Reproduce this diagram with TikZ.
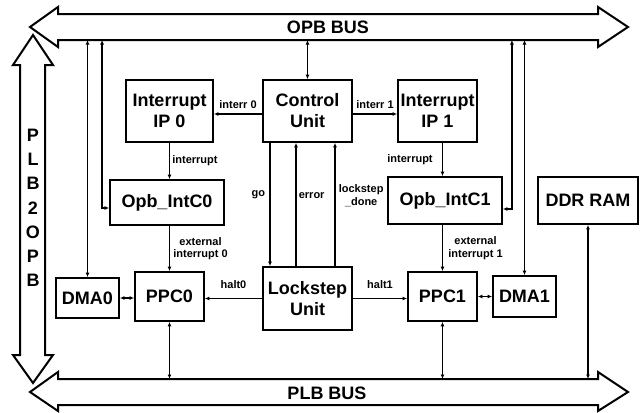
\documentclass[tikz,border=0pt]{standalone}
\usepackage{fontspec}
\setmainfont{Liberation Sans}
\usetikzlibrary{arrows.meta,positioning,calc}
\tikzset{>={Latex[length=4.5pt,width=4pt]}}
\tikzset{blk/.style={draw, line width=1.8pt, fill=white, align=center, inner sep=1pt,
    font=\fontsize{18}{21}\selectfont\bfseries}}
\tikzset{lbl/.style={font=\fontsize{11}{12.5}\selectfont\bfseries, inner sep=0pt, align=center}}
\tikzset{bus/.style={draw, line width=2pt, fill=white, line join=miter}}
\tikzset{bustxt/.style={font=\fontsize{18}{21}\selectfont\bfseries, inner sep=0pt}}
\tikzset{wire/.style={line width=1.7pt}}

\begin{document}
\begin{tikzpicture}[x=1pt,y=-1pt]
  \useasboundingbox (0,0) rectangle (641,413);
  % the three buses
  \draw[bus] (58,14) -- (598,14) -- (598,7) -- (628,27) -- (598,47) -- (598,40)
    -- (58,40) -- (58,47) -- (30,27) -- (58,7) -- cycle;
  \draw[bus] (58,379) -- (598,379) -- (598,372) -- (628,392) -- (598,411) -- (598,405)
    -- (58,405) -- (58,411) -- (30,392) -- (58,372) -- cycle;
  \draw[bus] (20,65) -- (20,355) -- (13,355) -- (33,383) -- (53,355) -- (45,355)
    -- (45,65) -- (53,65) -- (33,35) -- (13,65) -- cycle;
  \node[bustxt] (opbtxt) at (328,27) {OPB BUS};
  \node[bustxt] (plbtxt) at (327,393) {PLB BUS};
  \foreach \c [count=\i] in {P,L,B,2,O,P,B}
    \node[bustxt] (br\i) at (33,{110.7+24.3*\i}) {\c};
  \coordinate (opb) at (0,40);
  \coordinate (plb) at (0,379);

  % blocks
  \node[blk, minimum width=87pt, minimum height=62pt] (ip0) at (169.5,111) {Interrupt\\IP 0};
  \node[blk, minimum width=89pt, minimum height=62pt] (cu) at (307.5,111) {Control\\Unit};
  \node[blk, minimum width=79pt, minimum height=62pt] (ip1) at (437.5,111) {Interrupt\\IP 1};
  \node[blk, minimum width=114pt, minimum height=45pt] (oic0) at (167,202.5) {Opb\_IntC0};
  \node[blk, minimum width=114pt, minimum height=47pt] (oic1) at (445,200.5) {Opb\_IntC1};
  \node[blk, minimum width=100pt, minimum height=47pt] (ddr) at (588,200.5) {DDR RAM};
  \node[blk, minimum width=63pt, minimum height=40pt] (dma0) at (87.5,298) {DMA0};
  \node[blk, minimum width=69pt, minimum height=49pt] (ppc0) at (169.5,296.5) {PPC0};
  \node[blk, minimum width=89pt, minimum height=63pt] (ls) at (307.5,298.5) {Lockstep\\Unit};
  \node[blk, minimum width=69pt, minimum height=49pt] (ppc1) at (442.5,296.5) {PPC1};
  \node[blk, minimum width=63pt, minimum height=41pt] (dma1) at (524.5,296.5) {DMA1};

  % OPB side
  \draw[wire,<->] (cu.north |- opb) -- (cu.north);
  \draw[wire,<->] (dma0.north |- opb) -- (dma0.north);
  \draw[wire,<->] ([xshift=-7pt]oic0.west |- opb) |- ([yshift=-5.5pt]oic0.west);
  \draw[wire,<->] (dma1.north |- opb) -- (dma1.north);
  \draw[wire,<->] ([xshift=9pt]oic1.east |- opb) |- ([yshift=-8.5pt]oic1.east);

  % interrupts
  \draw[wire,->] ([yshift=-3pt]cu.west) -- ([yshift=-3pt]cu.west -| ip0.east)
    node[lbl, midway, above=5pt] {interr 0};
  \draw[wire,->] ([yshift=-3pt]cu.east) -- ([yshift=-3pt]cu.east -| ip1.west)
    node[lbl, midway, above=5pt] {interr 1};
  \draw[wire,->] (ppc0.north |- ip0.south) -- (ppc0.north |- oic0.north)
    node[lbl, midway, right=2pt] {interrupt};
  \draw[wire,->] (ppc1.north |- ip1.south) -- (ppc1.north |- oic1.north)
    node[lbl, midway, left=9pt] {interrupt};
  \draw[wire,->] (ppc0.north |- oic0.south) -- (ppc0.north)
    node[lbl, midway, right=3pt] {external\\interrupt 0};
  \draw[wire,->] (ppc1.north |- oic1.south) -- (ppc1.north)
    node[lbl, midway, right=5pt] {external\\interrupt 1};

  % control <-> lockstep
  \draw[wire,->] ([xshift=-37.5pt]cu.south) -- ([xshift=-37.5pt]ls.north)
    node[lbl, pos=0.42, left=4pt] {go};
  \draw[wire,->] ([xshift=-11.5pt]ls.north) -- ([xshift=-11.5pt]cu.south)
    node[lbl, pos=0.57, right=2pt] {error};
  \draw[wire,->] ([xshift=27.5pt]ls.north) -- ([xshift=27.5pt]cu.south)
    node[lbl, pos=0.57, right=3pt] {lockstep\\\_done};

  % halts and local links
  \draw[wire,->] (ls.west) -- (ls.west -| ppc0.east) node[lbl, midway, above=9pt] {halt0};
  \draw[wire,->] (ls.east) -- (ls.east -| ppc1.west) node[lbl, midway, above=9pt] {halt1};
  \draw[wire,<->] (ppc0.west |- dma0.east) -- (dma0.east);
  \draw[wire,<->] (ppc1.east |- dma1.west) -- (dma1.west);

  % PLB side
  \draw[wire,<->] (ppc0.south) -- (ppc0.south |- plb);
  \draw[wire,<->] (ppc1.south) -- (ppc1.south |- plb);
  \draw[wire,<->] (ddr.south) -- (ddr.south |- plb);
\end{tikzpicture}
\end{document}
